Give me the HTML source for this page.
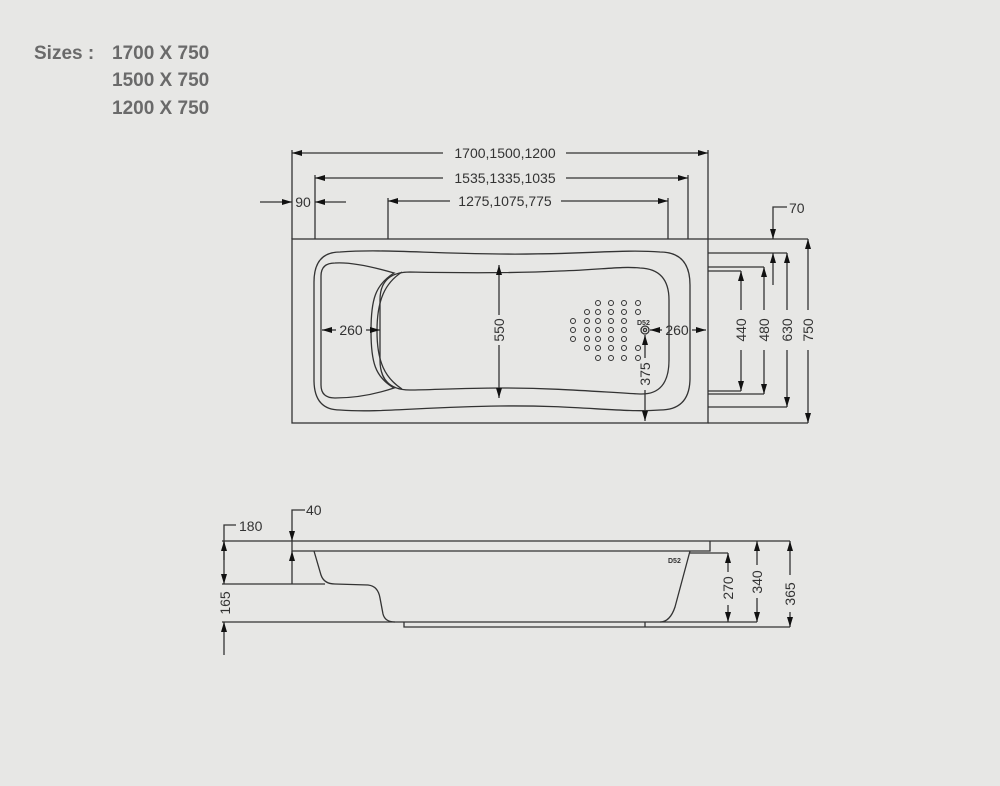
<!DOCTYPE html>
<html><head><meta charset="utf-8"><style>
html,body{margin:0;padding:0;background:#e7e7e5;}
svg{display:block}
text{font-family:"Liberation Sans",sans-serif;}
</style></head><body>
<svg width="1000" height="786" viewBox="0 0 1000 786" xmlns="http://www.w3.org/2000/svg">
<defs>
<marker id="a" viewBox="0 0 10 6" refX="10" refY="3" markerWidth="10" markerHeight="6" markerUnits="userSpaceOnUse" orient="auto-start-reverse"><path d="M0,0L10,3L0,6z" fill="#111"/></marker>
</defs>
<rect width="1000" height="786" fill="#e7e7e5"/>
<g font-weight="bold" font-size="19" fill="#6a6a6a">
<text x="34" y="59">Sizes :</text>
<text x="112" y="59">1700 X 750</text>
<text x="112" y="86">1500 X 750</text>
<text x="112" y="114">1200 X 750</text>
</g>
<g stroke="#333" stroke-width="1.3" fill="none">
<!-- top view outer -->
<rect x="292" y="239" width="416" height="184"/>
<line x1="292" y1="150" x2="292" y2="239"/><line x1="708" y1="150" x2="708" y2="239"/>
<line x1="315" y1="175" x2="315" y2="239"/><line x1="688" y1="175" x2="688" y2="239"/>
<line x1="388" y1="198" x2="388" y2="239"/><line x1="668" y1="198" x2="668" y2="239"/>
<line x1="292" y1="153" x2="443" y2="153" marker-start="url(#a)"/><line x1="566" y1="153" x2="708" y2="153" marker-end="url(#a)"/>
<line x1="315" y1="178" x2="443" y2="178" marker-start="url(#a)"/><line x1="566" y1="178" x2="688" y2="178" marker-end="url(#a)"/>
<line x1="388" y1="201" x2="450" y2="201" marker-start="url(#a)"/><line x1="561" y1="201" x2="668" y2="201" marker-end="url(#a)"/>
<line x1="260" y1="202" x2="292" y2="202" marker-end="url(#a)"/><line x1="346" y1="202" x2="315" y2="202" marker-end="url(#a)"/>
<!-- right side dims -->
<line x1="708" y1="239" x2="808" y2="239"/><line x1="708" y1="423" x2="808" y2="423"/>
<line x1="708" y1="253" x2="787" y2="253"/><line x1="708" y1="407" x2="787" y2="407"/>
<line x1="708" y1="267" x2="764" y2="267"/><line x1="708" y1="394" x2="764" y2="394"/>
<line x1="708" y1="271" x2="741" y2="271"/><line x1="708" y1="391" x2="741" y2="391"/>
<line x1="808" y1="239" x2="808" y2="310" marker-start="url(#a)"/><line x1="808" y1="350" x2="808" y2="423" marker-end="url(#a)"/>
<line x1="787" y1="253" x2="787" y2="310" marker-start="url(#a)"/><line x1="787" y1="350" x2="787" y2="407" marker-end="url(#a)"/>
<line x1="764" y1="267" x2="764" y2="310" marker-start="url(#a)"/><line x1="764" y1="350" x2="764" y2="394" marker-end="url(#a)"/>
<line x1="741" y1="271" x2="741" y2="310" marker-start="url(#a)"/><line x1="741" y1="350" x2="741" y2="391" marker-end="url(#a)"/>
<polyline points="773,239 773,207 787,207" marker-start="url(#a)"/>
<line x1="773" y1="285" x2="773" y2="253" marker-end="url(#a)"/>
<!-- tub outline -->
<path d="M340,252 C380,249 420,253 500,254 C580,255 620,249 660,252 Q690,252 690,285 L690,378 Q690,410 660,410 C620,413 580,405 500,406 C420,407 380,413 340,410 Q314,410 314,380 L314,282 Q314,252 340,252Z"/>
<path d="M335,263 C350,262 370,266 394,273 C375,285 371,300 371,331 C371,362 375,377 394,388 C370,396 350,398 335,398 Q321,398 321,385 L321,276 Q321,263 335,263Z"/>
<path d="M410,272 C460,273 520,273 560,271 C600,270 620,266 640,268 Q669,269 669,300 L669,360 Q669,395 640,394 C600,392 560,388 500,388 C460,388 430,390 410,390 Q380,390 380,360 L380,300 Q380,272 410,272Z"/>
<path d="M402,272 C385,283 377,300 377,331 C377,362 385,378 402,389" />
<!-- inner dims -->
<line x1="499" y1="265" x2="499" y2="315" marker-start="url(#a)"/><line x1="499" y1="345" x2="499" y2="398" marker-end="url(#a)"/>
<line x1="322" y1="330" x2="336" y2="330" marker-start="url(#a)"/><line x1="366" y1="330" x2="380" y2="330" marker-end="url(#a)"/>
<line x1="650" y1="330" x2="662" y2="330" marker-start="url(#a)"/><line x1="692" y1="330" x2="706" y2="330" marker-end="url(#a)"/>
<line x1="645" y1="335" x2="645" y2="358" marker-start="url(#a)"/><line x1="645" y1="390" x2="645" y2="421" marker-end="url(#a)"/>
<circle cx="645" cy="330" r="4"/><circle cx="645" cy="330" r="1.6"/>
</g>
<g fill="none" stroke="#333" stroke-width="1">
<circle cx="573" cy="321" r="2.5"/><circle cx="573" cy="330" r="2.5"/><circle cx="573" cy="339" r="2.5"/>
<circle cx="587" cy="312" r="2.5"/><circle cx="587" cy="321" r="2.5"/><circle cx="587" cy="330" r="2.5"/><circle cx="587" cy="339" r="2.5"/><circle cx="587" cy="348" r="2.5"/>
<circle cx="598" cy="303" r="2.5"/><circle cx="598" cy="312" r="2.5"/><circle cx="598" cy="321" r="2.5"/><circle cx="598" cy="330" r="2.5"/><circle cx="598" cy="339" r="2.5"/><circle cx="598" cy="348" r="2.5"/><circle cx="598" cy="358" r="2.5"/>
<circle cx="611" cy="303" r="2.5"/><circle cx="611" cy="312" r="2.5"/><circle cx="611" cy="321" r="2.5"/><circle cx="611" cy="330" r="2.5"/><circle cx="611" cy="339" r="2.5"/><circle cx="611" cy="348" r="2.5"/><circle cx="611" cy="358" r="2.5"/>
<circle cx="624" cy="303" r="2.5"/><circle cx="624" cy="312" r="2.5"/><circle cx="624" cy="321" r="2.5"/><circle cx="624" cy="330" r="2.5"/><circle cx="624" cy="339" r="2.5"/><circle cx="624" cy="348" r="2.5"/><circle cx="624" cy="358" r="2.5"/>
<circle cx="638" cy="303" r="2.5"/><circle cx="638" cy="312" r="2.5"/><circle cx="638" cy="348" r="2.5"/><circle cx="638" cy="358" r="2.5"/>
</g>
<g fill="#333" font-size="14">
<text x="505" y="158" text-anchor="middle">1700,1500,1200</text>
<text x="505" y="183" text-anchor="middle">1535,1335,1035</text>
<text x="505" y="206" text-anchor="middle">1275,1075,775</text>
<text x="303" y="207" text-anchor="middle">90</text>
<text x="789" y="213">70</text>
<text x="351" y="335" text-anchor="middle">260</text>
<text x="677" y="335" text-anchor="middle">260</text>
<text x="637" y="325" font-size="7" font-weight="bold">D52</text>
<text transform="translate(504,330) rotate(-90)" text-anchor="middle">550</text>
<text transform="translate(650,374) rotate(-90)" text-anchor="middle">375</text>
<text transform="translate(746,330) rotate(-90)" text-anchor="middle">440</text>
<text transform="translate(769,330) rotate(-90)" text-anchor="middle">480</text>
<text transform="translate(792,330) rotate(-90)" text-anchor="middle">630</text>
<text transform="translate(813,330) rotate(-90)" text-anchor="middle">750</text>
</g>
<!-- side view -->
<g stroke="#333" stroke-width="1.3" fill="none">
<line x1="222" y1="541" x2="790" y2="541"/>
<polyline points="292,541 292,551 710,551 710,541"/>
<line x1="222" y1="584" x2="325" y2="584"/>
<line x1="222" y1="622" x2="757" y2="622"/>
<polyline points="404,622 404,627 790,627"/>
<line x1="645" y1="622" x2="645" y2="627"/>
<path d="M314,551 L321,575 Q324,584 335,584 L368,585 Q378,586 380,598 L383,614 Q385,622 395,622"/>
<path d="M690,551 L675,607 Q670,622 660,622"/>
<line x1="690" y1="553" x2="728" y2="553"/>
<line x1="728" y1="553" x2="728" y2="572" marker-start="url(#a)"/><line x1="728" y1="605" x2="728" y2="622" marker-end="url(#a)"/>
<line x1="757" y1="541" x2="757" y2="565" marker-start="url(#a)"/><line x1="757" y1="598" x2="757" y2="622" marker-end="url(#a)"/>
<line x1="790" y1="541" x2="790" y2="575" marker-start="url(#a)"/><line x1="790" y1="612" x2="790" y2="627" marker-end="url(#a)"/>
<polyline points="224,584 224,525 236,525" marker-start="url(#a)"/>
<line x1="224" y1="560" x2="224" y2="541" marker-end="url(#a)"/>
<line x1="224" y1="655" x2="224" y2="622" marker-end="url(#a)"/>
<polyline points="292,541 292,510 305,510" marker-start="url(#a)"/>
<line x1="292" y1="584" x2="292" y2="551" marker-end="url(#a)"/>
</g>
<g fill="#333" font-size="14">
<text x="239" y="531">180</text>
<text x="306" y="515">40</text>
<text x="668" y="563" font-size="7" font-weight="bold">D52</text>
<text transform="translate(230,603) rotate(-90)" text-anchor="middle">165</text>
<text transform="translate(733,588) rotate(-90)" text-anchor="middle">270</text>
<text transform="translate(762,582) rotate(-90)" text-anchor="middle">340</text>
<text transform="translate(795,594) rotate(-90)" text-anchor="middle">365</text>
</g>
</svg>
</body></html>
